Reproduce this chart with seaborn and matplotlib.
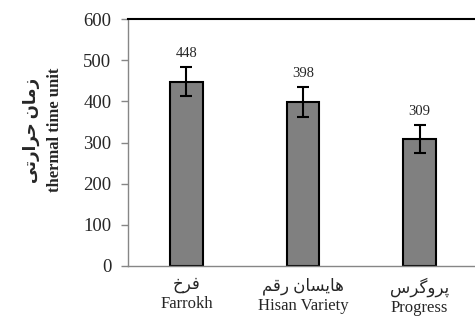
import matplotlib
matplotlib.use("Agg")
import matplotlib.pyplot as plt
import seaborn as sns

# Data
varieties = ["Farrokh", "Hisan Variety", "Progress"]
varieties_fa = ["فرخ", "هایسان رقم", "پروگرس"]
thermal_time = [448, 398, 309]
errors = [35, 36, 34]
ylabel_fa = "زمان حرارتی"
ylabel_en = "thermal time unit"

# Arabic/Persian presentation forms: isolated, final, initial, medial
FORMS = {
    "ا": ("\uFE8D", "\uFE8E", None, None),
    "ز": ("\uFEAF", "\uFEB0", None, None),
    "ر": ("\uFEAD", "\uFEAE", None, None),
    "و": ("\uFEED", "\uFEEE", None, None),
    "م": ("\uFEE1", "\uFEE2", "\uFEE3", "\uFEE4"),
    "ن": ("\uFEE5", "\uFEE6", "\uFEE7", "\uFEE8"),
    "ح": ("\uFEA1", "\uFEA2", "\uFEA3", "\uFEA4"),
    "ت": ("\uFE95", "\uFE96", "\uFE97", "\uFE98"),
    "ی": ("\uFBFC", "\uFBFD", "\uFBFE", "\uFBFF"),
    "ف": ("\uFED1", "\uFED2", "\uFED3", "\uFED4"),
    "خ": ("\uFEA5", "\uFEA6", "\uFEA7", "\uFEA8"),
    "ه": ("\uFEE9", "\uFEEA", "\uFEEB", "\uFEEC"),
    "س": ("\uFEB1", "\uFEB2", "\uFEB3", "\uFEB4"),
    "ق": ("\uFED5", "\uFED6", "\uFED7", "\uFED8"),
    "پ": ("\uFB56", "\uFB57", "\uFB58", "\uFB59"),
    "گ": ("\uFB92", "\uFB93", "\uFB94", "\uFB95"),
}


def shape(text):
    # matplotlib does no Arabic shaping, so pick joined forms and reverse
    out = []
    for i, ch in enumerate(text):
        if ch not in FORMS:
            out.append(ch)
            continue
        iso, fin, ini, med = FORMS[ch]
        prev = text[i - 1] if i > 0 else ""
        nxt = text[i + 1] if i < len(text) - 1 else ""
        join_prev = prev in FORMS and FORMS[prev][2] is not None
        join_next = nxt in FORMS and ini is not None
        if join_prev and join_next:
            out.append(med)
        elif join_prev:
            out.append(fin)
        elif join_next:
            out.append(ini)
        else:
            out.append(iso)
    return "".join(reversed(out))


sns.set_style("white")
plt.rcParams["font.family"] = ["Liberation Serif", "DejaVu Sans"]

fig = plt.figure(figsize=(4.75, 3.2), dpi=100)
ax = fig.add_axes([128 / 475, 54 / 320, 350 / 475, 247 / 320])

sns.barplot(x=varieties, y=thermal_time, color="#808080", edgecolor="black",
            linewidth=1.5, width=0.28, saturation=1, ax=ax)
ax.errorbar(range(len(varieties)), thermal_time, yerr=errors, fmt="none",
            ecolor="black", elinewidth=1.5, capsize=4, capthick=1.5)

for i, (v, e) in enumerate(zip(thermal_time, errors)):
    ax.annotate(str(v), (i, v + e), xytext=(0, 5), textcoords="offset points",
                ha="center", va="bottom", fontsize=10.5)

ax.set_xlim(-0.5, 2.5)
ax.set_ylim(0, 600)
ax.set_yticks(range(0, 601, 100))
ax.set_xticks(range(len(varieties)))
ax.set_xticklabels([shape(fa) + "\n" + en for fa, en in zip(varieties_fa, varieties)],
                   fontsize=12, linespacing=1.25)
ax.set_xticks([-0.5, 0.5, 1.5, 2.5], minor=True)
ax.tick_params(axis="x", which="major", length=0, pad=8)
ax.tick_params(axis="x", which="minor", length=5, color="#868686", width=1, direction="out")
ax.tick_params(axis="y", length=5, color="#868686", width=1, direction="out",
               labelsize=13.5, pad=7, left=True)
ax.set_xlabel("")
ax.set_ylabel("")

for side in ["left", "bottom"]:
    ax.spines[side].set_color("#868686")
    ax.spines[side].set_linewidth(1)
ax.spines["top"].set_color("black")
ax.spines["top"].set_linewidth(1.5)
ax.spines["right"].set_visible(False)

fig.text(31 / 475, 1 - 130 / 320, shape(ylabel_fa), rotation=90, ha="center",
         va="center", fontsize=12, fontweight="bold")
fig.text(55 / 475, 1 - 130 / 320, ylabel_en, rotation=90, ha="center",
         va="center", fontsize=12, fontweight="bold")

fig.savefig("out.png", dpi=100)
